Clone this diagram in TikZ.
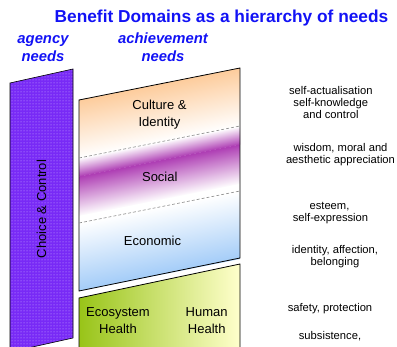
\documentclass[tikz,border=0pt]{standalone}
\usepackage{fontspec}
\setmainfont{Liberation Sans}
\usetikzlibrary{patterns}
\definecolor{ttl}{RGB}{18,18,245}
\definecolor{peach}{RGB}{253,204,156}
\definecolor{socpurple}{RGB}{174,62,180}
\definecolor{econblue}{RGB}{163,204,248}
\definecolor{barviolet}{RGB}{120,42,246}
\definecolor{bardot}{RGB}{205,180,255}
\definecolor{ecogreen}{RGB}{152,196,24}
\definecolor{midyellow}{RGB}{228,238,168}
\definecolor{humyellow}{RGB}{255,255,204}
\begin{document}
\begin{tikzpicture}[x=1pt,y=-1pt,
  titletext/.style={font=\bfseries\fontsize{17.3}{20}\selectfont, text=ttl, inner sep=0pt, anchor=base},
  headtext/.style={font=\bfseries\itshape\fontsize{14.8}{17}\selectfont, text=ttl, inner sep=0pt, anchor=base},
  domainlbl/.style={font=\fontsize{13}{15}\selectfont, inner sep=0pt, anchor=base},
  needlbl/.style={font=\fontsize{11.2}{12}\selectfont, inner sep=0pt, anchor=base},
  outlinebox/.style={draw=black, line width=0.8pt},
  sepline/.style={draw=black!45, dash pattern=on 3pt off 2pt, line width=0.6pt}]
\useasboundingbox (0,0) rectangle (397,347);
\clip (0,0) rectangle (397,347);
% agency bar
\fill[barviolet] (10,83) -- (73,69) -- (73,338) -- (10,352) -- cycle;
\fill[pattern=dots, pattern color=bardot] (10,83) -- (73,69) -- (73,338) -- (10,352) -- cycle;
\draw[line width=0.6pt] (10,83) -- (73,69) -- (73,338) -- (10,352) -- cycle;
\node[domainlbl, rotate=90] (cc) at (46,209) {Choice \& Control};
% achievement column, slanted gradient bands
\begin{scope}[transform canvas={yslant=0.19876}]
  \shade[top color=peach, bottom color=white] (79,115.7) rectangle (240,174.0);
  \shade[top color=white, bottom color=socpurple] (79,173.7) rectangle (240,192.4);
  \shade[top color=socpurple, bottom color=white] (79,192.2) rectangle (240,232.0);
  \fill[white] (79,231.7) rectangle (240,239.0);
  \shade[top color=white, bottom color=econblue] (79,238.7) rectangle (240,306.7);
\end{scope}
\draw[outlinebox] (79,100) -- (240,68) -- (240,258) -- (79,291) -- cycle;
\draw[sepline] (79,158) -- (240,126);
\draw[sepline] (79,223) -- (240,191);
% health block
\shade[left color=ecogreen, middle color=midyellow, right color=humyellow] (79,298) -- (240,264) -- (240,360) -- (79,360) -- cycle;
\draw[outlinebox] (79,298) -- (240,264) -- (240,360) -- (79,360) -- cycle;
% titles
\node[titletext] (title) at (221.5,22.3) {Benefit Domains as a hierarchy of needs};
\node[headtext] (ag1) at (43,44) {agency};
\node[headtext] (ag2) at (43,61.3) {needs};
\node[headtext] (ac1) at (163,44) {achievement};
\node[headtext] (ac2) at (163,61.3) {needs};
% domain labels
\node[domainlbl] (cu1) at (159.5,110) {Culture \&};
\node[domainlbl] (cu2) at (159.5,126.5) {Identity};
\node[domainlbl] (so) at (159.8,181.5) {Social};
\node[domainlbl] (ec) at (152.5,246) {Economic};
\node[domainlbl] (eh1) at (118,316.7) {Ecosystem};
\node[domainlbl] (eh2) at (118,333.3) {Health};
\node[domainlbl] (hh1) at (206.7,316.7) {Human};
\node[domainlbl] (hh2) at (206.7,333.3) {Health};
% needs
\node[needlbl] (n1) at (330.8,95) {self-actualisation};
\node[needlbl] (n2) at (330.8,107) {self-knowledge};
\node[needlbl] (n3) at (330.8,119) {and control};
\node[needlbl] (n4) at (340.5,152) {wisdom, moral and};
\node[needlbl] (n5) at (340.5,164) {aesthetic appreciation};
\node[needlbl] (n6) at (329.5,210) {esteem,};
\node[needlbl] (n7) at (330.5,222) {self-expression};
\node[needlbl] (n8) at (335,254) {identity, affection,};
\node[needlbl] (n9) at (335,266) {belonging};
\node[needlbl] (n10) at (330,312) {safety, protection};
\node[needlbl] (n11) at (330,340) {subsistence,};
\end{tikzpicture}
\end{document}
